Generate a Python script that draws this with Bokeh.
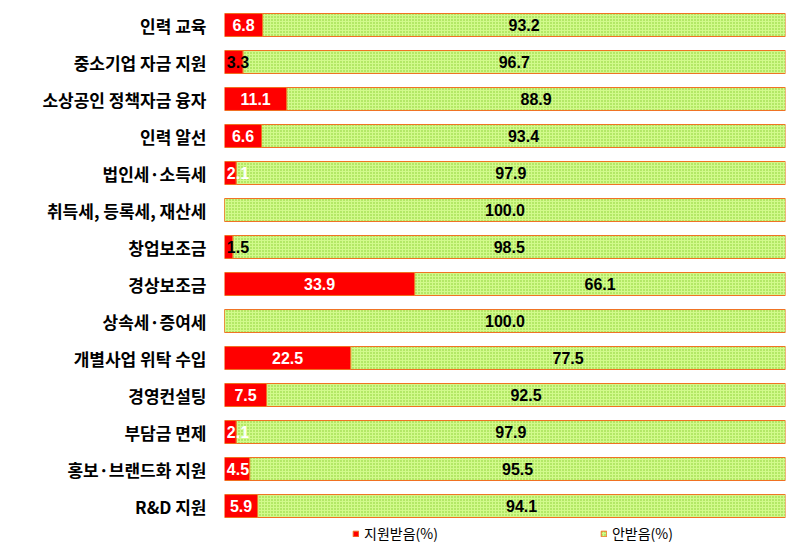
from bokeh.plotting import figure
from bokeh.models import ColumnDataSource, Range1d, FixedTicker, Legend, LegendItem
from bokeh.embed import file_html
from bokeh.resources import INLINE
from bokeh.core.properties import value

categories = ["인력 교육", "중소기업 자금 지원", "소상공인 정책자금 융자", "인력 알선",
              "법인세·소득세", "취득세, 등록세, 재산세", "창업보조금", "경상보조금",
              "상속세·증여세", "개별사업 위탁 수입", "경영컨설팅", "부담금 면제",
              "홍보·브랜드화 지원", "R&D 지원"]
received = [6.8, 3.3, 11.1, 6.6, 2.1, 0.0, 1.5, 33.9, 0.0, 22.5, 7.5, 2.1, 4.5, 5.9]
not_received = [93.2, 96.7, 88.9, 93.4, 97.9, 100.0, 98.5, 66.1, 100.0, 77.5, 92.5, 97.9, 95.5, 94.1]
received_label_colors = ["white", "black", "white", "white", "white", "white", "black",
                         "white", "white", "white", "white", "white", "white", "white"]
series_names = ["지원받음(%)", "안받음(%)"]

n = len(categories)
ys = [n - 1 - i for i in range(n)]
src = ColumnDataSource(dict(
    y=ys,
    rec=received,
    total=[a + b for a, b in zip(received, not_received)],
    rec_mid=[max(a / 2, 2.4) for a in received],
    not_mid=[a + b / 2 for a, b in zip(received, not_received)],
    rec_lab=[("%.1f" % v) if v > 0 else "" for v in received],
    not_lab=["%.1f" % v for v in not_received],
    rec_col=received_label_colors,
))

p = figure(width=794, height=543, output_backend="svg", toolbar_location=None,
           x_range=Range1d(0, 100), y_range=Range1d(-1.013, n - 1 + 0.446),
           min_border_left=224, min_border_right=9, min_border_top=8, min_border_bottom=0)
p.outline_line_color = None
p.xgrid.visible = False
p.ygrid.visible = False
p.xaxis.visible = False

bh = 0.62
r1 = p.hbar(y="y", left=0, right="rec", height=bh, source=src,
            fill_color="#ff0000", line_color="#f07020", line_width=1)
r2 = p.hbar(y="y", left="rec", right="total", height=bh, source=src,
            fill_color="#d2fa8c", hatch_pattern="dot", hatch_color="#84cc2c",
            hatch_scale=3, hatch_weight=1.6, line_color="#f07020", line_width=1)

p.text(x="rec_mid", y="y", text="rec_lab", source=src, text_align="center",
       text_baseline="middle", text_color="rec_col", text_font=value("Liberation Sans"),
       text_font_style="bold", text_font_size="16px")
p.text(x="not_mid", y="y", text="not_lab", source=src, text_align="center",
       text_baseline="middle", text_color="black", text_font=value("Liberation Sans"),
       text_font_style="bold", text_font_size="16px")

yax = p.yaxis[0]
yax.ticker = FixedTicker(ticks=ys)
yax.major_label_overrides = {y: c for y, c in zip(ys, categories)}
yax.axis_line_color = None
yax.major_tick_line_color = None
yax.minor_tick_line_color = None
yax.major_label_standoff = 12
yax.major_label_text_font = "Noto Sans CJK KR"
yax.major_label_text_font_style = "bold"
yax.major_label_text_font_size = "17px"
yax.major_label_text_color = "black"

lg = Legend(items=[LegendItem(label=series_names[0], renderers=[r1]),
                   LegendItem(label=series_names[1], renderers=[r2])],
            location=(128, 0), orientation="horizontal", spacing=162,
            glyph_width=7, glyph_height=7, label_standoff=5, label_height=14,
            padding=0, margin=0, border_line_color=None, background_fill_alpha=0,
            label_text_font="Noto Sans CJK KR", label_text_font_size="14px",
            label_text_color="black")
p.add_layout(lg)

open("out.html", "w").write(file_html(p, INLINE))
